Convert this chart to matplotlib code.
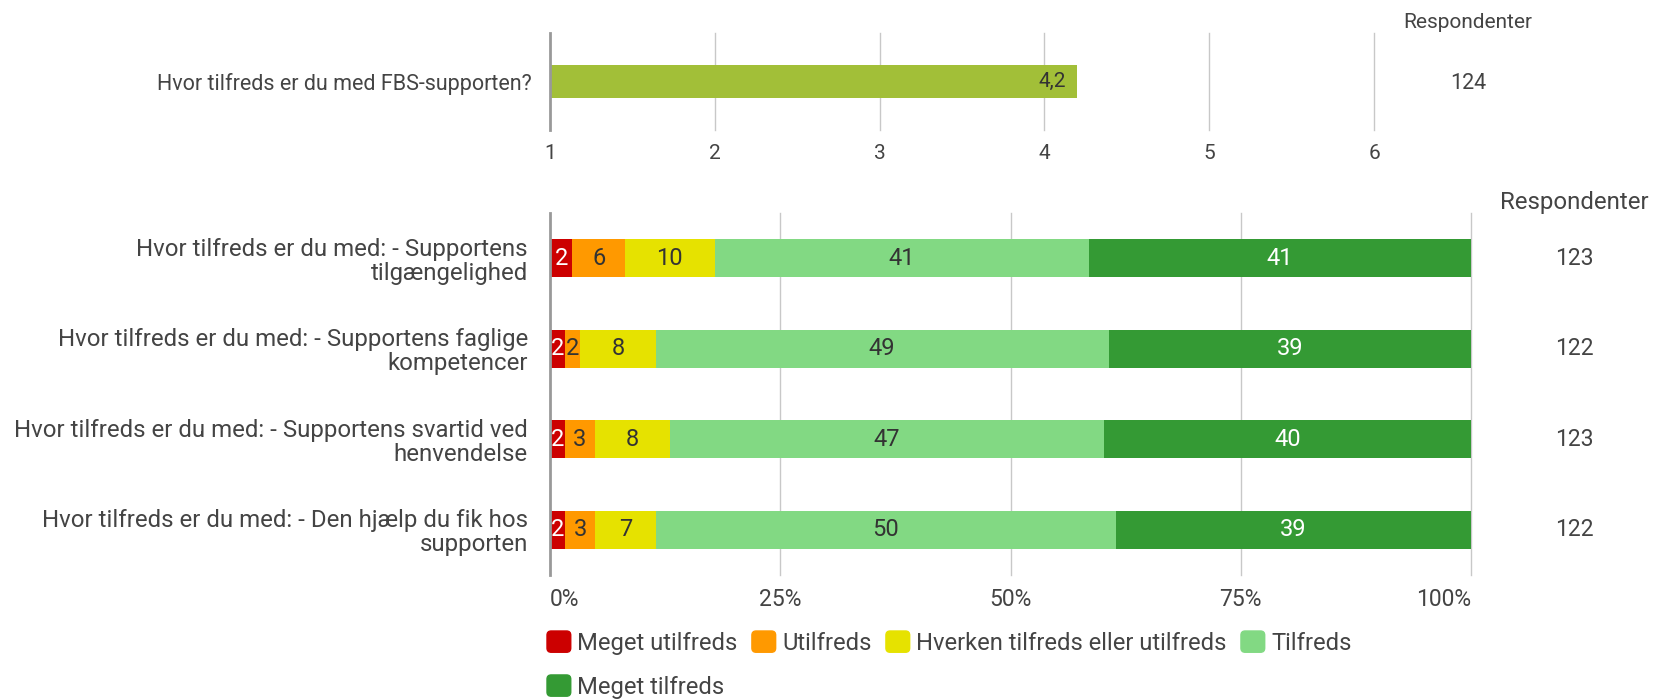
import numpy as np
import matplotlib
matplotlib.use("Agg")
import matplotlib.pyplot as plt
from matplotlib.patches import Patch, FancyBboxPatch
from matplotlib.legend_handler import HandlerPatch

plt.rcParams['font.family'] = ['Roboto', 'DejaVu Sans']

# top chart data
top_question = "Hvor tilfreds er du med FBS-supporten?"
top_mean = 4.2
top_n = 124
top_ticks = [1, 2, 3, 4, 5, 6]

# bottom chart data
questions = [
    "Hvor tilfreds er du med: - Supportens\ntilgængelighed",
    "Hvor tilfreds er du med: - Supportens faglige\nkompetencer",
    "Hvor tilfreds er du med: - Supportens svartid ved\nhenvendelse",
    "Hvor tilfreds er du med: - Den hjælp du fik hos\nsupporten",
]
answers = ["Meget utilfreds", "Utilfreds", "Hverken tilfreds eller utilfreds",
           "Tilfreds", "Meget tilfreds"]
meget_utilfreds = [3, 2, 2, 2]
utilfreds = [7, 2, 4, 4]
hverken = [12, 10, 10, 8]
tilfreds = [50, 60, 58, 61]
meget_tilfreds = [51, 48, 49, 47]
respondenter = [123, 122, 123, 122]
pct_ticks = [0, 25, 50, 75, 100]
pct_labels = ["0%", "25%", "50%", "75%", "100%"]

colors = ["#cc0000", "#ff9900", "#e6e200", "#82d983", "#349a34"]
text_colors = ["white", "#333333", "#333333", "#333333", "white"]
grid_col = "#c8c8c8"
axis_col = "#999999"
label_col = "#444444"

W, H = 1655, 700
fig = plt.figure(figsize=(W / 100, H / 100), dpi=100)


def px_axes(left, top, right, bottom):
    return fig.add_axes([left / W, 1 - bottom / H, (right - left) / W, (bottom - top) / H])


def rounded_box(legend, orig_handle, xdescent, ydescent, width, height, fontsize):
    return FancyBboxPatch((-xdescent, -ydescent), width, height,
                          boxstyle="round,pad=0,rounding_size=3")


# ---- top chart ----
ax1 = px_axes(550, 33, 1374, 130)
ax1.barh([0], [top_mean - 1], left=1, height=0.34, color="#a2bf38", zorder=3)
ax1.text(top_mean - 0.07, 0, str(top_mean).replace(".", ","), ha="right", va="center",
         fontsize=15, color="#333333", zorder=4)
ax1.set_xlim(1, 6)
ax1.set_ylim(-0.5, 0.5)
ax1.set_xticks(top_ticks)
ax1.set_xticklabels([str(t) for t in top_ticks], fontsize=15, color=label_col)
ax1.set_yticks([0])
ax1.set_yticklabels([top_question], fontsize=15.5, color=label_col)
ax1.tick_params(length=0)
ax1.tick_params(axis="x", pad=10)
ax1.tick_params(axis="y", pad=13)
for t in top_ticks[1:]:
    ax1.axvline(t, color=grid_col, lw=1, zorder=1, clip_on=False)
for s in ["top", "right", "bottom"]:
    ax1.spines[s].set_visible(False)
ax1.spines["left"].set_color(axis_col)
ax1.spines["left"].set_linewidth(2)
ax1.spines["left"].set_zorder(5)
ax1.text(1.114, 1.11, "Respondenter", transform=ax1.transAxes, ha="center", va="center",
         fontsize=15, color=label_col)
ax1.text(1.114, -0.02, str(top_n), transform=ax1.get_yaxis_transform(), ha="center",
         va="center", fontsize=15.5, color=label_col)

# ---- bottom chart ----
ax2 = px_axes(550, 213, 1471, 575)
series = [meget_utilfreds, utilfreds, hverken, tilfreds, meget_tilfreds]
counts = np.array(series, dtype=float)
totals = counts.sum(axis=0)
pcts = counts / totals * 100
y = np.arange(len(questions))
left = np.zeros(len(questions))
for i, name in enumerate(answers):
    ax2.barh(y, pcts[i], left=left, height=0.42, color=colors[i], label=name, zorder=3)
    for j in range(len(questions)):
        ax2.text(left[j] + pcts[i][j] / 2, y[j], str(int(round(pcts[i][j] + 1e-9))),
                 ha="center", va="center", fontsize=17, color=text_colors[i], zorder=4)
    left = left + pcts[i]

ax2.set_xlim(0, 100)
ax2.set_ylim(len(questions) - 0.5, -0.5)
ax2.set_yticks(y)
ax2.set_yticklabels(questions, fontsize=17.3, color=label_col, linespacing=1.05)
ax2.set_xticks(pct_ticks)
ax2.set_xticklabels(pct_labels, fontsize=16.5, color=label_col)
xt = ax2.get_xticklabels()
xt[0].set_ha("left")
xt[-1].set_ha("right")
ax2.tick_params(length=0)
ax2.tick_params(axis="x", pad=9)
ax2.tick_params(axis="y", pad=16)
for t in pct_ticks[1:]:
    ax2.axvline(t, color=grid_col, lw=1, zorder=1, clip_on=False)
for s in ["top", "right", "bottom"]:
    ax2.spines[s].set_visible(False)
ax2.spines["left"].set_color(axis_col)
ax2.spines["left"].set_linewidth(2)
ax2.spines["left"].set_zorder(5)
ax2.text(1.112, 1.03, "Respondenter", transform=ax2.transAxes, ha="center", va="center",
         fontsize=17.3, color=label_col)
for j, n in enumerate(respondenter):
    ax2.text(1.112, y[j], str(n), transform=ax2.get_yaxis_transform(), ha="center",
             va="center", fontsize=16.5, color=label_col)

# legend: column-first fill, so reorder to get 4 on row one and 1 on row two
handles = [Patch(facecolor=c, edgecolor=c) for c in colors]
order = [0, 4, 1, 2, 3]
fig.legend([handles[k] for k in order], [answers[k] for k in order],
           loc="upper left", bbox_to_anchor=(547 / W, 1 - 631 / H), ncol=4,
           frameon=False, fontsize=17.1, handlelength=1.0, handleheight=1.0,
           handletextpad=0.28, columnspacing=0.6, labelspacing=0.85, borderpad=0,
           borderaxespad=0, labelcolor=label_col,
           handler_map={Patch: HandlerPatch(patch_func=rounded_box)})

fig.savefig("out.png", dpi=100)
